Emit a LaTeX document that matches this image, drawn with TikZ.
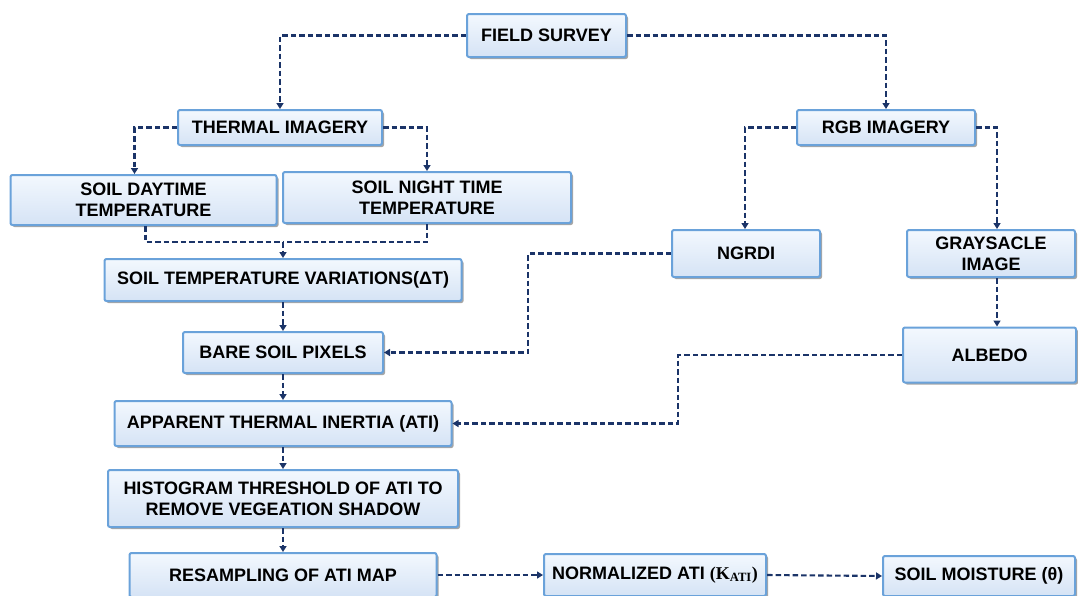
\documentclass[tikz,border=0pt]{standalone}
\usepackage{fontspec}
\setmainfont{Liberation Sans}
\newfontfamily\serifx{Liberation Serif}
\usetikzlibrary{arrows.meta,shadows}
\definecolor{navy}{HTML}{1B3468}
\definecolor{boxline}{HTML}{6AA2DA}
\definecolor{boxtop}{HTML}{F3F8FE}
\definecolor{boxbot}{HTML}{D5E3F5}
\tikzset{
  box/.style={draw=boxline, line width=2pt, rounded corners=2pt,
    top color=boxtop, bottom color=boxbot,
    drop shadow={shadow xshift=2pt, shadow yshift=-2pt, fill=black, opacity=0.35},
    font=\bfseries\fontsize{18}{21}\selectfont, align=center, inner sep=0pt},
  dline/.style={draw=navy, line width=2.1pt, dash pattern=on 5.5pt off 3pt},
  conn/.style={dline, -{Triangle[width=7pt,length=6pt]}},
}
\begin{document}
\begin{tikzpicture}[x=1pt,y=-1pt]
\useasboundingbox (0,0) rectangle (1078,595);
% nodes
\node[box, minimum width=159pt, minimum height=43pt] (fs) at (546.5,35.5) {FIELD SURVEY};
\node[box, minimum width=204pt, minimum height=35pt] (thermal) at (280,127.5) {THERMAL IMAGERY};
\node[box, minimum width=178pt, minimum height=35pt] (rgb) at (886,127.5) {RGB IMAGERY};
\node[box, minimum width=266pt, minimum height=50pt] (day) at (143.5,200) {SOIL DAYTIME\\TEMPERATURE};
\node[box, minimum width=288pt, minimum height=51pt] (night) at (427,197.5) {SOIL NIGHT TIME\\TEMPERATURE};
\node[box, minimum width=148pt, minimum height=47pt] (ngrdi) at (746,253.5) {NGRDI};
\node[box, minimum width=168pt, minimum height=47pt] (gray) at (991,253.5) {GRAYSACLE\\IMAGE};
\node[box, minimum width=357pt, minimum height=42pt] (stv) at (283,280) {SOIL TEMPERATURE VARIATIONS(ΔT)};
\node[box, minimum width=200pt, minimum height=41pt] (bare) at (283,352.5) {BARE SOIL PIXELS};
\node[box, minimum width=173pt, minimum height=55pt] (albedo) at (989.5,355) {ALBEDO};
\node[box, minimum width=337pt, minimum height=45pt] (ati) at (283,423.5) {APPARENT THERMAL INERTIA (ATI)};
\node[box, minimum width=350pt, minimum height=57pt] (hist) at (283,498.5) {HISTOGRAM THRESHOLD OF ATI TO\\REMOVE VEGEATION SHADOW};
\node[box, minimum width=307pt, minimum height=44pt] (res) at (283,575) {RESAMPLING OF ATI MAP};
\node[box, minimum width=222pt, minimum height=42pt] (norm) at (655,575) {NORMALIZED ATI {\serifx(K\textsubscript{ATI})}};
\node[box, minimum width=192pt, minimum height=40pt] (sm) at (979,576) {SOIL MOISTURE (θ)};
% helper coordinates
\coordinate (m) at (283,242);
\coordinate (c1) at (528,253.5);
\coordinate (c2) at (678,355);
% connectors
\draw[conn] (fs.west) -| (thermal.north);
\draw[conn] (fs.east) -| (rgb.north);
\draw[conn] (thermal.west) -| ([xshift=-9pt]day.north);
\draw[conn] (thermal.east) -| (night.north);
\draw[dline] ([xshift=2pt]day.south) |- (m);
\draw[dline] (night.south) |- (m);
\draw[conn] (m) -- (stv.north);
\draw[conn] (rgb.west) -| ([xshift=-1pt]ngrdi.north);
\draw[conn] (rgb.east) -| ([xshift=6pt]gray.north);
\draw[conn] ([xshift=6pt]gray.south) -- ([xshift=6pt]gray.south |- albedo.north);
\draw[conn] (ngrdi.west) -- (c1) |- (bare.east);
\draw[conn] (albedo.west) -- (c2) |- (ati.east);
\draw[conn] (stv.south) -- (bare.north);
\draw[conn] (bare.south) -- (ati.north);
\draw[conn] (ati.south) -- (hist.north);
\draw[conn] (hist.south) -- (res.north);
\draw[conn] (res.east) -- (norm.west);
\draw[conn] (norm.east) -- (sm.west);
\end{tikzpicture}
\end{document}
